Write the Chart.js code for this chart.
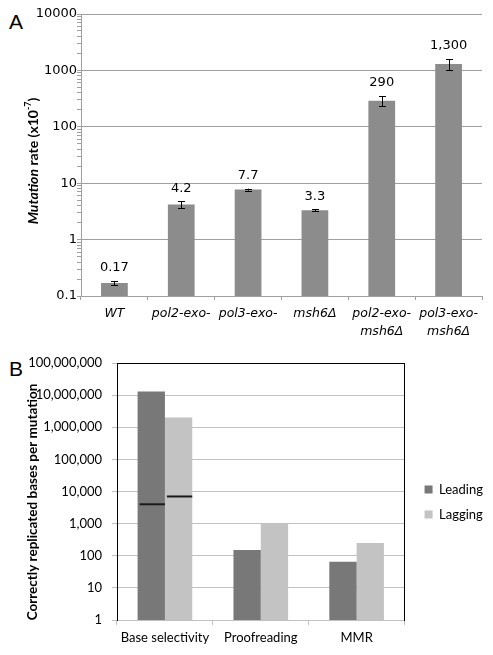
<!DOCTYPE html>
<html>
<head>
<meta charset="utf-8">
<script src="https://cdn.jsdelivr.net/npm/chart.js@4.4.1/dist/chart.umd.min.js"></script>
<style>
  body { margin: 0; background: #fff; }
  .panel { position: absolute; left: 0; }
  .letter { position: absolute; font-family: 'Liberation Sans', Arial, sans-serif; font-size: 21px; line-height: 1; }
</style>
</head>
<body>
<div class="letter" style="left:9px;top:11px;">A</div>
<div class="letter" style="left:9px;top:358px;">B</div>
<canvas id="chartA" class="panel" width="493" height="345" style="top:0"></canvas>
<canvas id="chartB" class="panel" width="493" height="310" style="top:345px"></canvas>
<script>
// Panel A – mutation rates
const strains = ['WT', 'pol2-exo-', 'pol3-exo-', 'msh6Δ', ['pol2-exo-', 'msh6Δ'], ['pol3-exo-', 'msh6Δ']];
const mutationRates = [0.17, 4.2, 7.7, 3.3, 290, 1300];
const rateErrors = [0.015, 0.6, 0.3, 0.15, 60, 290];
const rateLabels = ['0.17', '4.2', '7.7', '3.3', '290', '1,300'];

// Panel B – fidelity contributions
const mechanisms = ['Base selectivity', 'Proofreading', 'MMR'];
const leadingBases = [13000000, 150, 65];
const laggingBases = [2000000, 1000, 250];
const selectivityMarks = [4000, 7000]; // leading, lagging

const fontA = "'DejaVu Sans', Verdana, sans-serif";
const fontB = "Lato, 'Open Sans', sans-serif";

function isMajor(v) {
  const l = Math.log10(v);
  return Math.abs(l - Math.round(l)) < 1e-9;
}

// rotated axis title, made of several styled pieces
function drawRotatedTitle(ctx, parts, cx, cy) {
  ctx.save();
  let total = 0;
  for (const p of parts) { ctx.font = p.font; p.w = ctx.measureText(p.text).width; total += p.w; }
  ctx.translate(cx, cy);
  ctx.rotate(-Math.PI / 2);
  ctx.fillStyle = '#000';
  ctx.textBaseline = 'middle';
  ctx.textAlign = 'left';
  let x = -total / 2;
  for (const p of parts) {
    ctx.font = p.font;
    ctx.fillText(p.text, x, p.dy || 0);
    x += p.w;
  }
  ctx.restore();
}

const errorBars = {
  id: 'errorBars',
  afterDatasetsDraw(chart) {
    const { ctx } = chart;
    const y = chart.scales.y;
    const bars = chart.getDatasetMeta(0).data;
    ctx.save();
    ctx.strokeStyle = '#000';
    ctx.lineWidth = 1;
    ctx.fillStyle = '#000';
    ctx.font = "13px " + fontA;
    ctx.textAlign = 'center';
    ctx.textBaseline = 'middle';
    bars.forEach((bar, i) => {
      const hi = y.getPixelForValue(mutationRates[i] + rateErrors[i]);
      const lo = y.getPixelForValue(mutationRates[i] - rateErrors[i]);
      const x = Math.round(bar.x) + 0.5;
      ctx.beginPath();
      ctx.moveTo(x, hi); ctx.lineTo(x, lo);
      ctx.moveTo(x - 3.5, Math.round(hi) + 0.5); ctx.lineTo(x + 3.5, Math.round(hi) + 0.5);
      ctx.moveTo(x - 3.5, Math.round(lo) + 0.5); ctx.lineTo(x + 3.5, Math.round(lo) + 0.5);
      ctx.stroke();
      ctx.fillText(rateLabels[i], bar.x, hi - 13);
    });
    ctx.restore();
  },
  afterDraw(chart) {
    drawRotatedTitle(chart.ctx, [
      { text: 'Mutation', font: "italic bold 14px " + fontB },
      { text: ' rate (x10', font: "bold 14px " + fontB },
      { text: '-7', font: "bold 9px " + fontB, dy: -5 },
      { text: ')', font: "bold 14px " + fontB }
    ], 33, 161);
  }
};

new Chart(document.getElementById('chartA'), {
  type: 'bar',
  data: {
    labels: strains,
    datasets: [{
      data: mutationRates,
      backgroundColor: '#8c8c8c',
      categoryPercentage: 1,
      barPercentage: 0.4
    }]
  },
  options: {
    responsive: false,
    animation: false,
    layout: { padding: { top: 14, right: 11, left: 0, bottom: 0 } },
    plugins: { legend: { display: false }, tooltip: { enabled: false } },
    scales: {
      x: {
        afterFit: s => { s.height = 49; },
        border: { color: '#a0a0a0' },
        grid: { drawOnChartArea: false, offset: true, tickLength: 4, tickColor: '#a0a0a0' },
        ticks: { font: { family: fontA, size: 12.5, style: 'italic', lineHeight: 1.4 }, color: '#000', padding: 5, maxRotation: 0 }
      },
      y: {
        type: 'logarithmic',
        min: 0.1,
        max: 10000,
        afterFit: s => { s.width = 81; },
        afterBuildTicks: s => { s.ticks = s.ticks.filter(t => { const m = t.value / Math.pow(10, Math.floor(Math.log10(t.value) + 1e-9)); return Math.abs(m - Math.round(m)) < 1e-6; }); },
        border: { color: '#a0a0a0' },
        grid: {
          color: c => (c.tick && isMajor(c.tick.value)) ? '#a0a0a0' : 'rgba(0,0,0,0)',
          tickColor: '#a0a0a0',
          tickLength: 4
        },
        ticks: {
          autoSkip: false,
          padding: 0,
          color: '#000',
          font: { family: fontA, size: 13 },
          callback: v => isMajor(v) ? String(v) : ''
        }
      }
    }
  },
  plugins: [errorBars]
});

const panelB = {
  id: 'panelB',
  afterDatasetsDraw(chart) {
    const { ctx } = chart;
    const y = chart.scales.y;
    ctx.save();
    ctx.strokeStyle = '#1a1a1a';
    ctx.lineWidth = 2;
    selectivityMarks.forEach((v, ds) => {
      const bar = chart.getDatasetMeta(ds).data[0];
      const py = y.getPixelForValue(v);
      ctx.beginPath();
      ctx.moveTo(bar.x - bar.width / 2 + 2, py);
      ctx.lineTo(bar.x + bar.width / 2, py);
      ctx.stroke();
    });
    ctx.restore();
  },
  afterDraw(chart) {
    drawRotatedTitle(chart.ctx, [
      { text: 'Correctly replicated bases per mutation', font: "bold 13.5px " + fontB }
    ], 33, 157);
  }
};

// invisible helper axes that only supply the top/right edges of the plot box
const edgeAxis = (position, size) => ({
  type: 'linear',
  position,
  min: 0,
  max: 1,
  afterFit: s => { if (position === 'top') s.height = size; else s.width = size; },
  border: { display: true, color: '#000' },
  grid: { display: false, drawTicks: false },
  ticks: { display: false }
});

new Chart(document.getElementById('chartB'), {
  type: 'bar',
  data: {
    labels: mechanisms,
    datasets: [
      { label: 'Leading', data: leadingBases, backgroundColor: '#787878', categoryPercentage: 0.57, barPercentage: 1 },
      { label: 'Lagging', data: laggingBases, backgroundColor: '#c3c3c3', categoryPercentage: 0.57, barPercentage: 1 }
    ]
  },
  options: {
    responsive: false,
    animation: false,
    layout: { padding: { top: 4, right: 0, left: 0, bottom: 0 } },
    plugins: {
      tooltip: { enabled: false },
      legend: {
        position: 'right',
        labels: { boxWidth: 8, boxHeight: 8, padding: 12, color: '#000', font: { family: fontB, size: 13 } }
      }
    },
    scales: {
      x: {
        afterFit: s => { s.height = 35; },
        border: { color: '#c0c0c0' },
        grid: { drawOnChartArea: false, offset: true, tickLength: 5, tickColor: '#c0c0c0' },
        ticks: { font: { family: fontB, size: 13 }, color: '#000', padding: 5, maxRotation: 0 }
      },
      y: {
        type: 'logarithmic',
        min: 1,
        max: 100000000,
        afterFit: s => { s.width = 117; },
        afterBuildTicks: s => { s.ticks = s.ticks.filter(t => isMajor(t.value)); },
        border: { color: '#000' },
        grid: { color: '#c0c0c0', tickColor: '#c0c0c0', tickLength: 5 },
        ticks: {
          autoSkip: false,
          padding: 10,
          color: '#000',
          font: { family: fontB, size: 13 },
          callback: v => Number(v).toLocaleString('en-US')
        }
      },
      yR: edgeAxis('right', 8),
      xT: edgeAxis('top', 14)
    }
  },
  plugins: [panelB]
});
</script>
</body>
</html>
